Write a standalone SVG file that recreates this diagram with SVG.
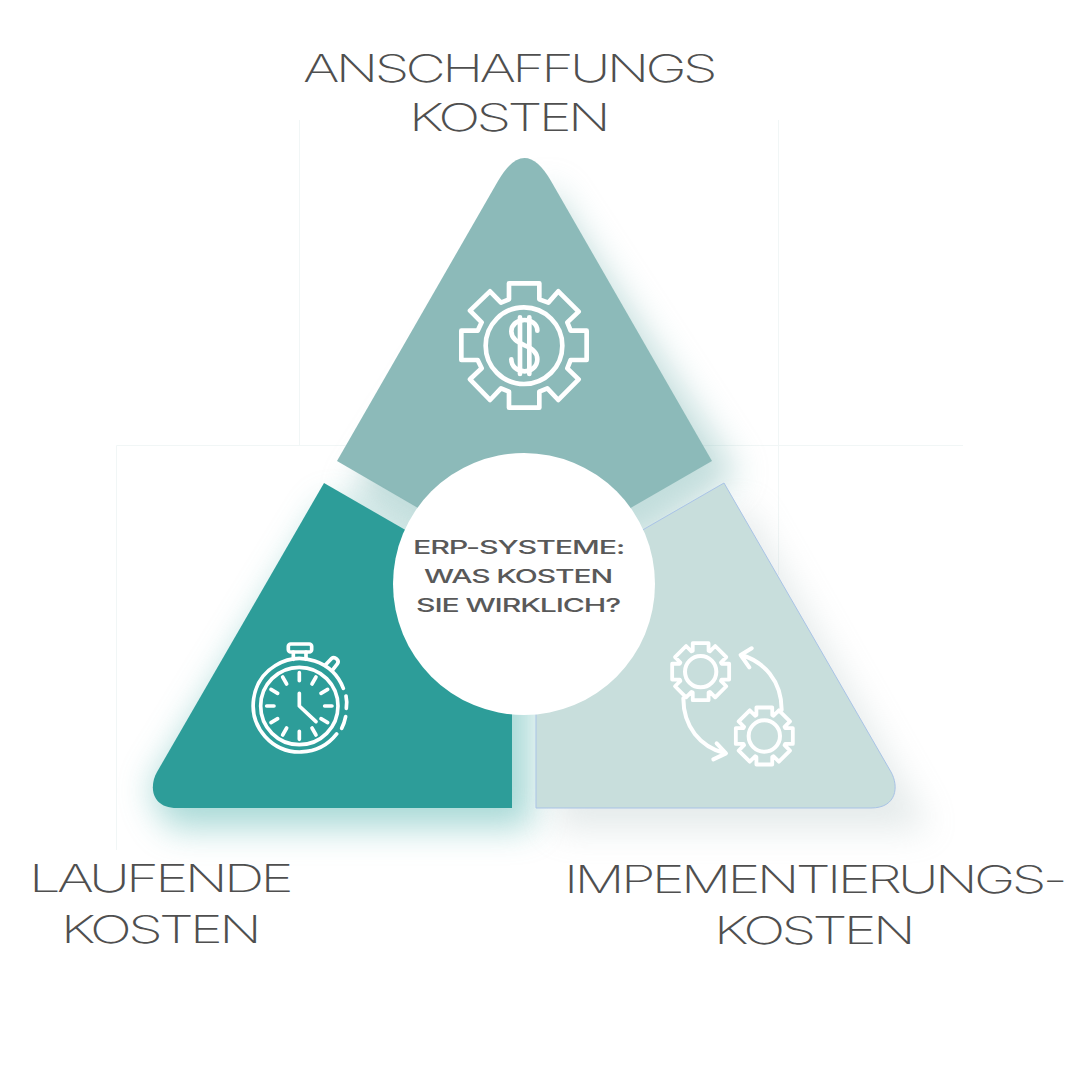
<svg xmlns="http://www.w3.org/2000/svg" width="1080" height="1080" viewBox="0 0 1080 1080">
<style>
.lbl{font-family:"Inter","Liberation Sans",sans-serif;font-weight:200;font-size:38px;letter-spacing:-2.5px;fill:#4f4f4f}
.ctr{font-family:"Inter","Liberation Sans",sans-serif;font-weight:500;font-size:18.5px;letter-spacing:-.7px;fill:#595959}
.ico{fill:none;stroke:#fff;stroke-width:14;stroke-linecap:round;stroke-linejoin:round}
.faint{fill:none;stroke:#f1f6f6;stroke-width:1}
</style>
<defs>
<filter id="sh1" x="-30%" y="-30%" width="160%" height="160%"><feGaussianBlur stdDeviation="17"/></filter>
<path id="gear" d="M-25-66V-90H25V-66L29-64 46-81 81-46 64-29 66-25H90V25H66L64 29 81 46 46 81 29 64 25 66V90H-25V66L-29 64-46 81-81 46-64 29-66 25H-90V-25H-66L-64-29-81-46-46-81-29-64Z"/>
</defs>
<g id="frames" class="faint">
<path d="M299.500 120V445"/><path d="M778.500 120V575"/><path d="M116.500 850V445.500H963"/>
</g>
<g id="connectors"></g>
<g id="node-top">
<path d="M350 495 548 185 738 475 640 545H420Z" fill="#86bcb9" opacity=".5" filter="url(#sh1)"/>
<path d="M337 461 498 181Q524.500 135 551 181L712 461 524 569.500Z" fill="#8cbab9"/>
<g class="ico" transform="translate(440 260) scale(.3333)">
<path d="M207 70H298V118L325 128 355 94 416 155 382 187 392 212H440V300H392L382 325 416 358 355 420 322 385 298 395V443H207V395L183 385 150 420 90 358 125 325 113 300H64V212H113L125 187 90 152 150 94 183 128 207 118Z"/>
<circle cx="252" cy="257" r="115"/>
<path d="M292 212C292 190 272 180 254 180 232 180 214 194 214 214 214 236 232 246 254 256 276 264 292 276 292 298 292 320 274 334 254 334 232 334 214 320 214 298"/>
<path d="M240 172V342M268 172V342"/>
</g>
</g>
<g id="node-left">
<path d="M170 828H532V620L330 500 150 790Z" fill="#62bab5" opacity=".55" filter="url(#sh1)"/>
<path d="M324 483 512 591.500V808H177C151 808 149 786 157 772Z" fill="#2d9d99"/>
<g class="ico" style="stroke-width:11" transform="translate(230 630) scale(.3333)">
<path d="M320 312A140 140 0 1 1 340 175"/>
<circle cx="208" cy="228" r="116"/>
<path d="M348 198Q352 216 349 235M347 260Q343 280 335 295"/>
<rect x="175" y="42" width="70" height="24" rx="7"/>
<path d="M190 66V88M228 66V88"/>
<path d="M286 105 304 86C314 78 330 90 322 102L308 120"/>
<path d="M208 128V152M208 328V304M110 228H132M306 228H284M158 141 170 162M258 141 246 162M158 315 170 294M258 315 246 294M123 178 143 190M293 178 273 190M123 278 143 266M293 278 273 266"/>
<path d="M208 190V228L258 275"/>
</g>
</g>
<g id="node-right">
<path d="M555 830H930L745 505 555 610Z" fill="#a9bcbc" opacity=".3" filter="url(#sh1)"/>
<path d="M724 483 536 591.500V808H871C897 808 899 786 891 772Z" fill="#c8dedc" stroke="#a9c3e6" stroke-width="1"/>
<g class="ico" style="stroke-width:12" transform="translate(650 630) scale(.3333)">
<use href="#gear" transform="translate(152 125) scale(.95)"/><circle cx="152" cy="125" r="47"/>
<use href="#gear" transform="translate(343 318) scale(.95)"/><circle cx="343" cy="318" r="47"/>
<path d="M100 205C100 290 150 350 225 370M200 340 228 370 190 388"/>
<path d="M395 240C395 150 340 95 275 75M305 55 272 75 298 112"/>
</g>
</g>
<g id="node-center">
<circle cx="524" cy="584" r="131" fill="#fff"/>
<text class="ctr" x="413" y="553.500" textLength="211" lengthAdjust="spacingAndGlyphs">ERP-SYSTEME:</text>
<text class="ctr" x="424" y="583" textLength="188" lengthAdjust="spacingAndGlyphs">WAS KOSTEN</text>
<text class="ctr" x="416" y="612" textLength="204" lengthAdjust="spacingAndGlyphs">SIE WIRKLICH?</text>
</g>
<g id="label-top">
<text class="lbl" x="303" y="82" textLength="411" lengthAdjust="spacingAndGlyphs">ANSCHAFFUNGS</text>
<text class="lbl" x="409" y="131" textLength="198" lengthAdjust="spacingAndGlyphs">KOSTEN</text>
</g>
<g id="label-left">
<text class="lbl" x="29" y="892" textLength="261" lengthAdjust="spacingAndGlyphs">LAUFENDE</text>
<text class="lbl" x="61" y="943" textLength="197" lengthAdjust="spacingAndGlyphs">KOSTEN</text>
</g>
<g id="label-right">
<text class="lbl" x="564" y="893" textLength="500" lengthAdjust="spacingAndGlyphs">IMPEMENTIERUNGS-</text>
<text class="lbl" x="714" y="944" textLength="198" lengthAdjust="spacingAndGlyphs">KOSTEN</text>
</g>
</svg>
